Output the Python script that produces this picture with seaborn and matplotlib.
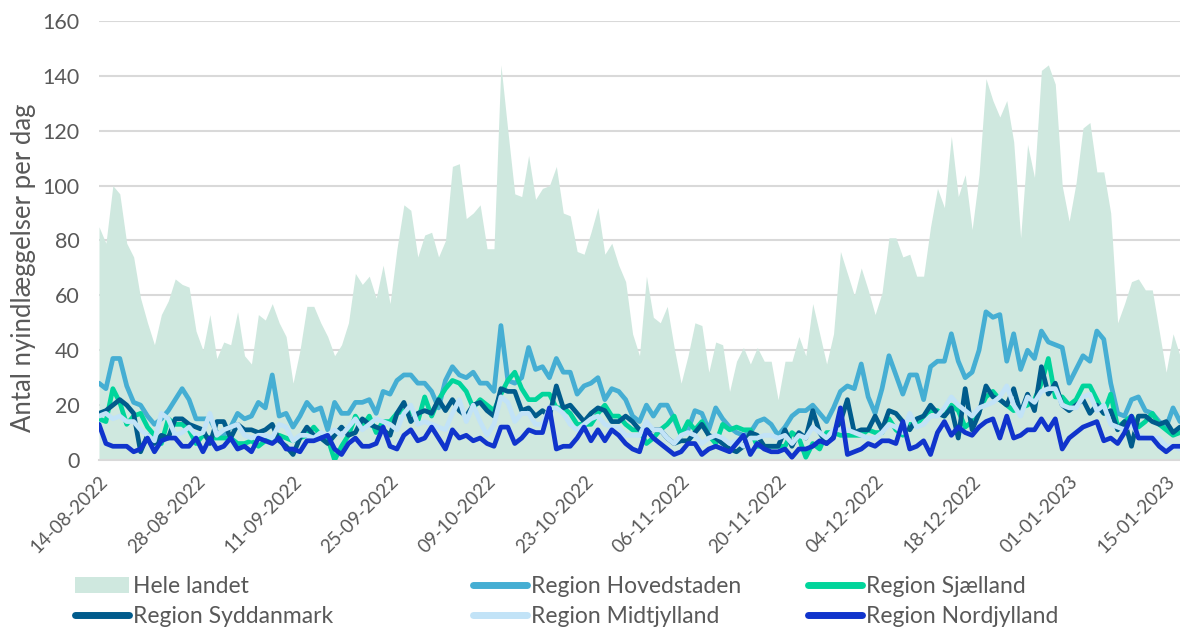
import matplotlib
matplotlib.use("Agg")
import matplotlib.pyplot as plt
import matplotlib.dates as mdates
from matplotlib.patches import Patch
from matplotlib.lines import Line2D
import pandas as pd
import seaborn as sns

# daglige nyindlæggelser fra 14-08-2022
start_date = "2022-08-14"

hele_landet = [
    85, 79, 100, 97, 79, 74, 59, 50, 42, 53,
    58, 66, 64, 63, 47, 40, 53, 37, 43, 42,
    54, 38, 35, 53, 51, 57, 50, 45, 28, 40,
    56, 56, 50, 45, 38, 42, 50, 68, 64, 67,
    59, 71, 57, 77, 93, 91, 74, 82, 83, 74,
    80, 107, 108, 88, 90, 93, 77, 77, 144, 120,
    97, 96, 111, 95, 99, 100, 107, 90, 89, 76,
    75, 83, 92, 75, 79, 71, 65, 46, 38, 67,
    52, 50, 56, 41, 28, 38, 50, 49, 32, 43,
    42, 25, 36, 41, 35, 41, 36, 36, 22, 36,
    36, 45, 38, 57, 46, 35, 46, 76, 68, 60,
    70, 62, 53, 61, 81, 81, 74, 75, 67, 67,
    85, 99, 92, 118, 96, 104, 84, 104, 139, 131,
    125, 131, 116, 81, 115, 103, 142, 144, 137, 100,
    87, 101, 121, 123, 105, 105, 90, 50, 57, 65,
    66, 62, 62, 47, 32, 46, 38,
]

hovedstaden = [
    28, 26, 37, 37, 27, 21, 20, 16, 13, 15,
    18, 22, 26, 22, 15, 15, 15, 10, 9, 12,
    17, 15, 16, 21, 19, 31, 16, 17, 12, 16,
    21, 18, 19, 11, 21, 17, 17, 21, 21, 22,
    17, 25, 24, 29, 31, 31, 28, 28, 25, 19,
    29, 34, 31, 30, 32, 28, 28, 25, 49, 29,
    28, 30, 41, 33, 34, 30, 37, 32, 32, 24,
    27, 28, 30, 22, 26, 25, 22, 16, 14, 20,
    16, 20, 20, 15, 9, 11, 18, 17, 11, 19,
    15, 12, 10, 9, 10, 14, 15, 13, 9, 12,
    16, 18, 18, 20, 17, 14, 19, 25, 27, 26,
    35, 23, 17, 26, 38, 31, 24, 31, 31, 22,
    34, 36, 36, 46, 36, 30, 32, 40, 54, 52,
    53, 36, 46, 33, 40, 37, 47, 43, 42, 41,
    28, 33, 38, 36, 47, 44, 28, 17, 16, 22,
    23, 18, 17, 14, 12, 19, 14,
]

sjaelland = [
    15, 14, 26, 21, 13, 16, 17, 12, 9, 6,
    15, 13, 13, 11, 6, 9, 8, 8, 8, 8,
    6, 6, 7, 5, 7, 8, 9, 8, 7, 8,
    9, 12, 9, 8, 0, 5, 9, 16, 12, 16,
    10, 14, 14, 17, 18, 18, 14, 23, 16, 22,
    26, 29, 28, 25, 19, 22, 20, 18, 24, 29,
    32, 26, 22, 22, 24, 24, 19, 19, 17, 13,
    13, 13, 17, 20, 16, 16, 13, 11, 11, 6,
    8, 11, 13, 16, 9, 14, 11, 14, 9, 6,
    13, 11, 12, 11, 11, 5, 5, 5, 5, 5,
    10, 8, 1, 6, 4, 10, 10, 9, 9, 9,
    9, 11, 10, 10, 15, 11, 9, 13, 13, 16,
    18, 18, 16, 20, 18, 12, 14, 18, 23, 25,
    22, 20, 18, 19, 20, 22, 28, 37, 23, 23,
    20, 22, 27, 27, 22, 17, 24, 12, 14, 16,
    12, 14, 17, 13, 11, 9, 10,
]

syddanmark = [
    17, 18, 20, 22, 20, 17, 3, 9, 6, 9,
    8, 15, 15, 13, 12, 11, 6, 14, 14, 8,
    13, 11, 11, 10, 11, 13, 7, 5, 2, 8,
    12, 9, 8, 6, 9, 12, 9, 10, 15, 13,
    12, 11, 9, 17, 21, 14, 17, 18, 17, 22,
    18, 22, 18, 16, 20, 21, 18, 16, 26, 25,
    25, 18, 19, 16, 18, 16, 27, 19, 20, 17,
    14, 17, 19, 18, 14, 14, 16, 14, 11, 11,
    11, 11, 8, 6, 7, 7, 10, 13, 9, 8,
    6, 4, 3, 5, 10, 9, 5, 5, 5, 11,
    5, 10, 8, 18, 10, 6, 10, 14, 22, 10,
    11, 11, 16, 11, 18, 17, 14, 11, 15, 16,
    20, 17, 16, 19, 8, 26, 11, 17, 27, 23,
    22, 20, 26, 17, 24, 18, 34, 24, 28, 20,
    18, 20, 22, 17, 20, 17, 18, 11, 14, 5,
    16, 16, 14, 13, 14, 10, 12,
]

midtjylland = [
    16, 17, 15, 16, 14, 14, 11, 9, 7, 17,
    15, 9, 10, 12, 9, 10, 17, 9, 11, 12,
    13, 9, 8, 9, 9, 8, 13, 12, 7, 9,
    9, 8, 10, 9, 11, 9, 12, 15, 11, 13,
    15, 14, 13, 11, 17, 20, 13, 14, 13, 12,
    11, 17, 22, 14, 20, 14, 9, 13, 23, 21,
    14, 17, 17, 13, 13, 19, 19, 17, 13, 11,
    13, 15, 16, 13, 12, 12, 9, 9, 9, 14,
    11, 11, 8, 6, 9, 10, 9, 6, 8, 9,
    8, 6, 7, 5, 8, 8, 9, 9, 8, 9,
    6, 9, 8, 12, 10, 8, 11, 11, 11, 10,
    9, 8, 8, 10, 13, 12, 10, 17, 12, 13,
    16, 16, 19, 23, 20, 18, 16, 19, 20, 21,
    23, 27, 20, 16, 23, 21, 25, 26, 26, 20,
    19, 19, 23, 24, 18, 20, 13, 12, 11, 13,
    9, 8, 8, 8, 5, 5, 4,
]

nordjylland = [
    13, 6, 5, 5, 5, 3, 4, 8, 3, 7,
    8, 8, 5, 5, 8, 3, 8, 4, 5, 8,
    4, 5, 3, 8, 7, 6, 8, 4, 4, 3,
    7, 7, 8, 9, 4, 2, 6, 8, 5, 5,
    6, 12, 5, 4, 9, 11, 7, 8, 12, 8,
    4, 11, 8, 9, 7, 8, 6, 5, 12, 12,
    6, 8, 11, 10, 10, 19, 4, 5, 5, 8,
    12, 7, 11, 7, 11, 9, 6, 4, 3, 11,
    8, 6, 4, 2, 3, 6, 6, 2, 4, 5,
    4, 3, 6, 9, 2, 6, 4, 3, 3, 4,
    1, 4, 4, 5, 7, 6, 8, 19, 2, 3,
    4, 6, 5, 7, 7, 6, 14, 4, 5, 7,
    2, 10, 14, 9, 12, 10, 9, 12, 14, 15,
    8, 16, 8, 9, 11, 11, 15, 11, 15, 4,
    8, 10, 12, 13, 14, 7, 8, 6, 10, 16,
    8, 8, 8, 5, 3, 5, 5,
]

regions = ["Region Hovedstaden", "Region Sjælland", "Region Syddanmark",
           "Region Midtjylland", "Region Nordjylland"]
region_colors = ["#45aed3", "#00d59b", "#005b8c", "#c2e3f7", "#1034cc"]
area_color = "#cfe8df"
text_color = "#595959"
grid_color = "#d9d9d9"

dates = pd.date_range(start_date, periods=len(hele_landet), freq="D")
df = pd.DataFrame({"dato": dates, "Region Hovedstaden": hovedstaden,
                   "Region Sjælland": sjaelland, "Region Syddanmark": syddanmark,
                   "Region Midtjylland": midtjylland, "Region Nordjylland": nordjylland})
long_df = df.melt(id_vars="dato", var_name="region", value_name="antal")

sns.set_style("white")
plt.rcParams["font.family"] = ["Lato", "DejaVu Sans"]

fig = plt.figure(figsize=(11.8, 6.28), dpi=100)
ax = fig.add_axes([99 / 1180, 1 - 460 / 628, 1081 / 1180, 439 / 628])

ax.fill_between(dates, hele_landet, color=area_color, lw=0, zorder=1)
sns.lineplot(data=long_df, x="dato", y="antal", hue="region", hue_order=regions,
             palette=region_colors, linewidth=3.4, legend=False, ax=ax, zorder=3)

ax.set_xlim(dates[0], dates[-1])
ax.set_ylim(0, 160)
ax.set_yticks(range(0, 161, 20))
ax.set_xticks(pd.date_range(start_date, "2023-01-15", freq="14D"))
ax.xaxis.set_major_formatter(mdates.DateFormatter("%d-%m-%Y"))
ax.yaxis.grid(True, color=grid_color, lw=1.5)
ax.set_axisbelow(True)
ax.set_xlabel("")
ax.set_ylabel("")

for side in ["left", "right", "top"]:
    ax.spines[side].set_visible(False)
ax.spines["bottom"].set_color(grid_color)
ax.spines["bottom"].set_linewidth(1.5)

ax.tick_params(axis="y", length=0, pad=14, labelsize=15.5, labelcolor=text_color)
ax.tick_params(axis="x", length=5, width=1.5, color=grid_color, pad=4,
               labelsize=13.5, labelcolor=text_color)
plt.setp(ax.get_xticklabels(), rotation=45, ha="right", rotation_mode="anchor")

fig.text(24 / 1180, 1 - 268 / 628, "Antal nyindlæggelser per dag", rotation=90,
         ha="center", va="center", fontsize=18.5, color=text_color)

# legend in three columns
handles = [Patch(facecolor=area_color, edgecolor="none", label="Hele landet")]
for name, col in zip(regions, region_colors):
    handles.append(Line2D([], [], color=col, lw=5, solid_capstyle="round", label=name))
columns = [[handles[0], handles[3]], [handles[1], handles[4]], [handles[2], handles[5]]]
col_x = [75, 473, 808]
for hs, x in zip(columns, col_x):
    fig.legend(handles=hs, loc="upper left", bbox_to_anchor=(x / 1180, 1 - 576 / 628),
               frameon=False, borderpad=0, borderaxespad=0, fontsize=16.5,
               handlelength=2.35, handleheight=0.75, handletextpad=0.2,
               labelspacing=0.4, labelcolor=text_color)

fig.savefig("out.png", dpi=100)
